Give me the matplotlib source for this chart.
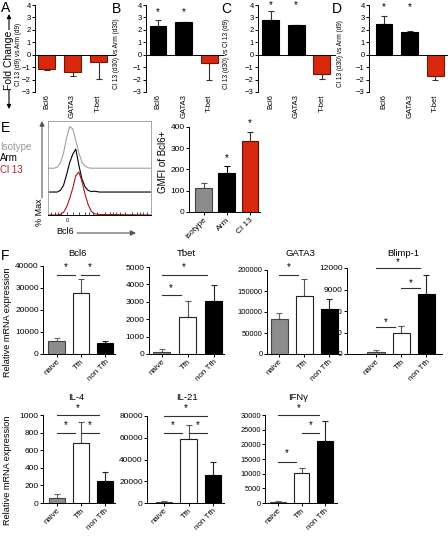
import numpy as np
import matplotlib.pyplot as plt

plt.rcParams['font.family'] = ['Liberation Sans', 'DejaVu Sans']
plt.rcParams['axes.linewidth'] = 0.7

W, H = 448, 536
RED = "#d8280e"
GREY = "#8c8c8c"

# --- A-D: fold change ---
fc_genes = ["Bcl6", "GATA3", "T-bet"]
fc_a = [-1.15, -1.4, -0.55]
fc_a_err = [0.05, 0.3, 1.4]
fc_b = [2.3, 2.6, -0.65]
fc_b_err = [0.5, 0.05, 1.35]
fc_c = [2.8, 2.4, -1.55]
fc_c_err = [0.7, 0.02, 0.4]
fc_d = [2.45, 1.85, -1.75]
fc_d_err = [0.7, 0.05, 0.3]
fc_star_y = [None, 3.4, 4.0, 3.8]
fc_ylabels = ["Cl 13 (d9) vs Arm (d9)", "Cl 13 (d30) vs Arm (d30)",
              "Cl 13 (d30) vs Cl 13 (d9)", "Cl 13 (d30) vs Arm (d9)"]

# --- E: histogram + GMFI ---
hist_x = [0, 6, 9, 12, 15, 18, 21, 24, 27, 30, 33, 36, 39, 42, 45, 50, 60, 100]
hist_iso = [0, 0, 3, 12, 35, 70, 97, 92, 65, 35, 14, 5, 1, 0, 0, 0, 0, 0]
hist_arm = [0, 0, 0, 4, 15, 40, 68, 88, 100, 62, 30, 12, 4, 1, 2, 0, 0, 0]
hist_cl13 = [0, 0, 0, 1, 6, 18, 38, 62, 92, 100, 78, 48, 24, 9, 3, 1, 1, 0]
gmfi_groups = ["isotype", "Arm", "Cl 13"]
gmfi = [113, 183, 333]
gmfi_err = [22, 32, 45]
gmfi_star_y = [None, 254, 419]

# --- F: relative mRNA expression ---
f_groups = ["naive", "Tfh", "non Tfh"]
bcl6_mrna = [5900, 27900, 4850]
bcl6_err = [1400, 6000, 1050]
tbet_mrna = [115, 2150, 3070]
tbet_err = [155, 900, 900]
gata3_mrna = [82600, 138800, 107100]
gata3_err = [14300, 39000, 23900]
blimp1_mrna = [320, 2970, 8370]
blimp1_err = [240, 980, 2630]
il4_mrna = [60, 678, 253]
il4_err = [39, 239, 103]
il21_mrna = [800, 58600, 25700]
il21_err = [700, 13100, 12300]
ifng_mrna = [440, 10300, 21100]
ifng_err = [260, 1500, 7000]

# significance: (group i, group j, line height, star height)
bcl6_sig = [(0, 1, 35900, 39500), (1, 2, 35900, 39500)]
tbet_sig = [(0, 1, 3390, 3800), (0, 2, 4540, 5000)]
gata3_sig = [(0, 1, 188000, 207000)]
blimp1_sig = [(0, 1, 3770, 4460), (1, 2, 9200, 9900), (0, 2, 12000, 12800)]
il4_sig = [(0, 1, 795, 886), (1, 2, 795, 886), (0, 2, 1000, 1080)]
il21_sig = [(0, 1, 64400, 71700), (1, 2, 64400, 71700), (0, 2, 80000, 87400)]
ifng_sig = [(0, 1, 14000, 17000), (1, 2, 23900, 26600), (0, 2, 30000, 32400)]

fig = plt.figure(figsize=(W / 100, H / 100), dpi=100)


def px_axes(x0, y0, x1, y1):
    return fig.add_axes([x0 / W, 1 - y1 / H, (x1 - x0) / W, (y1 - y0) / H])


def style(ax, fs):
    for s in ("top", "right"):
        ax.spines[s].set_visible(False)
    ax.tick_params(axis="y", length=2, width=0.7, pad=1, labelsize=fs)
    ax.set_facecolor("none")


def bars(ax, vals, errs, fills, edges, ecols, width):
    x = np.arange(len(vals))
    ax.bar(x, vals, width=width, color=fills, edgecolor=edges, linewidth=0.8, zorder=2)
    for xi, v, e, ec in zip(x, vals, errs, ecols):
        lo, hi = (e, 0) if v < 0 else (0, e)
        ax.errorbar(xi, v, yerr=[[lo], [hi]], fmt="none", ecolor=ec,
                    elinewidth=0.8, capsize=2, capthick=0.8, zorder=1)


ov = fig.add_axes([0, 0, 1, 1], zorder=-1)
ov.set_xlim(0, W)
ov.set_ylim(H, 0)
ov.axis("off")

# panel letters
for lab, (lx, ly) in zip("ABCDEF", [(1, 8), (112, 9), (221, 9), (332, 9), (1, 128), (1, 256)]):
    ov.text(lx, ly, lab, fontsize=10, va="center", ha="left")

# fold change arrow label
ov.annotate("", xy=(9, 14), xytext=(9, 109),
            arrowprops=dict(arrowstyle="<|-|>", color="black", lw=0.8,
                            mutation_scale=6, shrinkA=0, shrinkB=0))
ov.text(9, 60, "Fold Change", rotation=90, fontsize=7.5, ha="center", va="center",
        bbox=dict(facecolor="white", edgecolor="none", pad=0.5))

# --- A-D ---
fc_vals = [fc_a, fc_b, fc_c, fc_d]
fc_errs = [fc_a_err, fc_b_err, fc_c_err, fc_d_err]
fc_boxes = [(35, 115, 46.5, 26.0), (146, 223, 158, 25.7), (258, 335, 270.5, 25.7), (369, 448, 384, 25.7)]
fc_label_x = [18, 116, 226, 340]
for vals, errs, (x0, x1, c0, sp), ylab, lx, sy in zip(fc_vals, fc_errs, fc_boxes, fc_ylabels, fc_label_x, fc_star_y):
    ax = px_axes(x0, 5, x1, 92)
    fills = ["black" if v > 0 else RED for v in vals]
    edges = ["black" if v > 0 else "#6a1a0a" for v in vals]
    bars(ax, vals, errs, fills, edges, ["#333"] * 3, 0.66)
    ax.set_xlim((x0 - c0) / sp, (x1 - c0) / sp)
    ax.set_ylim(-3, 4)
    ax.set_yticks(range(-3, 5))
    style(ax, 5.5)
    ax.spines["bottom"].set_position(("data", 0))
    ax.tick_params(axis="x", length=0, labelbottom=False)
    for i, g in enumerate(fc_genes):
        ax.text(i, -3.2, g, rotation=90, ha="center", va="top", fontsize=5.5)
    if sy is not None:
        for i, v in enumerate(vals):
            if v > 0:
                ax.text(i, sy, "*", ha="center", va="center", fontsize=7)
    ov.text(lx, 54, ylab, rotation=90, fontsize=4.7, ha="center", va="center")

# --- E histogram ---
hx0, hx1, hy0, hy1 = 48, 151, 121, 215
ax = px_axes(hx0, hy0, hx1, hy1)
ax.plot(hist_x, np.array(hist_iso) + 109, color="#a0a0a0", lw=0.8)
ax.plot(hist_x, np.array(hist_arm) + 53.5, color="black", lw=0.8)
ax.plot(hist_x, np.array(hist_cl13), color="#a3181c", lw=0.8)
ax.set_xlim(0, 100)
ax.set_ylim(0, 219)
for s in ("top", "right", "left"):
    ax.spines[s].set_color("#999")
    ax.spines[s].set_linewidth(0.6)
ax.set_yticks([])
ax.set_xticks([3, 7, 10, 13, 18, 24, 30, 36, 40, 44, 48, 55, 60, 63, 66, 70, 75, 82, 86, 89, 92, 96])
ax.tick_params(axis="x", direction="in", length=2, width=0.5, labelbottom=False)
ov.text(67, 221, "0", fontsize=4, ha="center", va="center")
ov.annotate("", xy=(42, 121), xytext=(42, 198),
            arrowprops=dict(arrowstyle="-|>", color="#555", lw=0.8, mutation_scale=7, shrinkA=0, shrinkB=0))
ov.text(39, 212, "% Max", rotation=90, fontsize=6.5, ha="center", va="center")
ov.text(65, 232, "Bcl6", fontsize=6.5, ha="center", va="center")
ov.annotate("", xy=(136, 233), xytext=(77, 233),
            arrowprops=dict(arrowstyle="-|>", color="#555", lw=0.8, mutation_scale=8, shrinkA=0, shrinkB=0))
for t, c, yy in zip(["Isotype", "Arm", "Cl 13"], ["#999", "black", "#b0242a"], [147, 158, 170]):
    ov.text(0, yy, t, color=c, fontsize=7, ha="left", va="center")

# --- E GMFI ---
ax = px_axes(189, 127, 260, 212)
bars(ax, gmfi, gmfi_err, [GREY, "black", RED], ["#444", "black", "#5a1208"], ["#555", "black", "#333"], 0.72)
ax.set_xlim((189 - 203.5) / 23.2, (260 - 203.5) / 23.2)
ax.set_ylim(0, 400)
ax.set_yticks(range(0, 401, 100))
style(ax, 6)
ax.set_xticks(range(3))
ax.set_xticklabels(gmfi_groups, rotation=45, ha="right", rotation_mode="anchor", fontsize=6)
ax.tick_params(axis="x", length=2, width=0.7, pad=1)
for i, sy in enumerate(gmfi_star_y):
    if sy is not None:
        ax.text(i, sy, "*", ha="center", va="center", fontsize=7, clip_on=False)
ov.text(163, 162, "GMFI of Bcl6+", rotation=90, fontsize=7, ha="center", va="center")

# --- F ---
f_panels = [
    ("Bcl6", bcl6_mrna, bcl6_err, bcl6_sig, range(0, 40001, 10000), (43, 266, 115, 354, 56.5, 24.3), (77, 253)),
    ("Tbet", tbet_mrna, tbet_err, tbet_sig, range(0, 5001, 1000), (149, 267, 224, 354, 161.5, 26.0), (186, 253)),
    ("GATA3", gata3_mrna, gata3_err, gata3_sig, range(0, 200001, 50000), (267, 270, 340, 354, 279, 25.0), (300, 253)),
    ("Blimp-1", blimp1_mrna, blimp1_err, blimp1_sig, range(0, 12001, 3000), (347, 268, 442, 354, 376, 25.2), (403, 253)),
    ("IL-4", il4_mrna, il4_err, il4_sig, range(0, 1001, 200), (43, 415, 115, 503, 57, 24.0), (76, 397)),
    ("IL-21", il21_mrna, il21_err, il21_sig, range(0, 80001, 20000), (147, 416, 224, 503, 164, 24.5), (187, 397)),
    ("IFNγ", ifng_mrna, ifng_err, ifng_sig, range(0, 30001, 5000), (265, 415, 337, 503, 278, 23.5), (298, 397)),
]
f_fill = [GREY, "white", "black"]
f_edge = ["#444", "#222", "black"]
f_ecol = ["#666", "#555", "#222"]
for title, vals, errs, sig, ticks, (x0, y0, x1, y1, c0, sp), (tx, ty) in f_panels:
    ax = px_axes(x0, y0, x1, y1)
    bars(ax, vals, errs, f_fill, f_edge, f_ecol, 0.68)
    ax.set_xlim((x0 - c0) / sp, (x1 - c0) / sp)
    ax.set_ylim(0, ticks[-1])
    ax.set_yticks(list(ticks))
    ax.set_yticklabels([str(t) for t in ticks])
    style(ax, 6 if ticks[-1] < 100000 else 5.5)
    if title == "IFNγ":
        ax.tick_params(axis="y", labelsize=5.3)
    ax.set_xticks(range(3))
    ax.set_xticklabels(f_groups, rotation=45, ha="right", rotation_mode="anchor", fontsize=5.8)
    ax.tick_params(axis="x", length=2, width=0.7, pad=1)
    for i, j, ly, sy in sig:
        ax.plot([i, j - 0.25], [ly, ly], color="#333", lw=0.8, clip_on=False)
        ax.text((i + j - 0.25) / 2, sy, "*", ha="center", va="center", fontsize=7, clip_on=False)
    ov.text(tx, ty, title, fontsize=6.8, ha="center", va="center")

for yy in (322, 470):
    ov.text(8, yy, "Relative mRNA expression", rotation=90, fontsize=6.6, ha="center", va="center")

fig.savefig("out.png", dpi=100)
